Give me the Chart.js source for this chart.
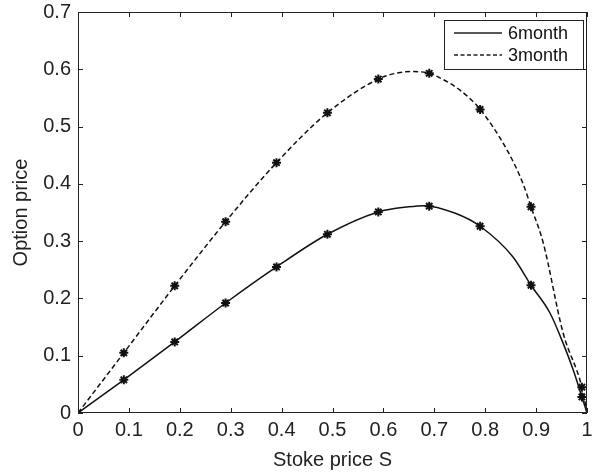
<!DOCTYPE html>
<html>
  <head>
    <script src="https://cdn.jsdelivr.net/npm/chart.js@4/dist/chart.umd.min.js"></script>
    <style>
      body { margin: 0; background: #fff; }
    </style>
  </head>
  <body>
    <canvas id="canvas" width="595" height="475"></canvas>
    <script>
      // marker positions (stars)
      const markS = [0.09, 0.19, 0.29, 0.39, 0.49, 0.59, 0.69, 0.79, 0.89, 0.99];
      const mark6 = [0.058, 0.124, 0.192, 0.255, 0.312, 0.351, 0.361, 0.326, 0.223, 0.028];
      const mark3 = [0.105, 0.222, 0.334, 0.437, 0.524, 0.583, 0.593, 0.530, 0.360, 0.045];

      // points
      const curveS6 = [0, 0.09, 0.19, 0.29, 0.39, 0.49, 0.59, 0.65, 0.68, 0.74, 0.79, 0.855, 0.89, 0.927, 0.953, 0.973, 0.99, 1];
      const curve6 = [0, 0.058, 0.124, 0.192, 0.255, 0.312, 0.351, 0.360, 0.362, 0.349, 0.326, 0.272, 0.223, 0.175, 0.122, 0.075, 0.028, 0];
      const curveS3 = [0, 0.09, 0.19, 0.29, 0.39, 0.49, 0.59, 0.63, 0.66, 0.69, 0.711, 0.75, 0.79, 0.843, 0.874, 0.89, 0.914, 0.953, 0.99, 1];
      const curve3 = [0, 0.105, 0.222, 0.334, 0.437, 0.524, 0.583, 0.594, 0.596, 0.593, 0.585, 0.564, 0.530, 0.459, 0.401, 0.360, 0.297, 0.140, 0.045, 0];

      const seriesNames = ['6month', '3month'];
      const xTitle = 'Stoke price S';
      const yTitle = 'Option price';

      const pts = (xs, ys) => xs.map((x, i) => ({ x: x, y: ys[i] }));
      const FONT = "'Liberation Sans', Arial, sans-serif";
      const fmt = (v) => String(+Number(v).toFixed(1));

      const matlabBox = {
        id: 'matlabBox',
        afterDraw(chart) {
          const ctx = chart.ctx;
          const a = chart.chartArea;
          const xs = chart.scales.x, ys = chart.scales.y;
          ctx.save();
          ctx.strokeStyle = '#222';
          ctx.lineWidth = 1;
          ctx.setLineDash([]);
          ctx.strokeRect(a.left + 0.5, a.top + 0.5, a.right - a.left - 1, a.bottom - a.top - 1);
          ctx.beginPath();
          xs.ticks.forEach((t) => {
            const px = Math.round(xs.getPixelForValue(t.value)) + 0.5;
            ctx.moveTo(px, a.bottom); ctx.lineTo(px, a.bottom - 5);
            ctx.moveTo(px, a.top); ctx.lineTo(px, a.top + 5);
          });
          ys.ticks.forEach((t) => {
            const py = Math.round(ys.getPixelForValue(t.value)) + 0.5;
            ctx.moveTo(a.left, py); ctx.lineTo(a.left + 5, py);
            ctx.moveTo(a.right, py); ctx.lineTo(a.right - 5, py);
          });
          ctx.stroke();

          // legend box
          const w = 139, h = 49;
          const lx = a.right - 4 - w, ly = a.top + 8;
          ctx.fillStyle = '#fff';
          ctx.fillRect(lx, ly, w, h);
          ctx.strokeRect(lx + 0.5, ly + 0.5, w, h);
          ctx.font = '18px ' + FONT;
          ctx.textBaseline = 'middle';
          ctx.fillStyle = '#111';
          seriesNames.forEach((name, i) => {
            const cy = ly + 13 + i * 22;
            ctx.beginPath();
            ctx.lineWidth = 1.5;
            ctx.setLineDash(i === 0 ? [] : [4, 2.5]);
            ctx.moveTo(lx + 10, cy); ctx.lineTo(lx + 58, cy);
            ctx.stroke();
            ctx.fillText(name, lx + 64, cy + 1);
          });
          ctx.restore();
        }
      };

      const curveStyle = {
        borderColor: '#111',
        borderWidth: 1.5,
        pointRadius: 0,
        fill: false,
        cubicInterpolationMode: 'monotone',
        showLine: true,
      };
      const markStyle = {
        showLine: false,
        pointStyle: 'star',
        pointRadius: 4.5,
        borderColor: '#111',
        borderWidth: 2,
        backgroundColor: '#111',
      };

      new Chart(document.getElementById('canvas').getContext('2d'), {
        type: 'line',
        data: {
          datasets: [
            Object.assign({ label: seriesNames[0], data: pts(curveS6, curve6) }, curveStyle),
            Object.assign({ label: seriesNames[1], data: pts(curveS3, curve3), borderDash: [5, 3] }, curveStyle),
            Object.assign({ data: pts(markS, mark6) }, markStyle),
            Object.assign({ data: pts(markS, mark3) }, markStyle),
          ],
        },
        options: {
          responsive: false,
          animation: false,
          layout: { padding: { top: 12, right: 8, left: 0, bottom: 0 } },
          plugins: {
            legend: { display: false },
            tooltip: { enabled: false },
          },
          scales: {
            x: {
              type: 'linear',
              min: 0,
              max: 1,
              grid: { display: false, drawTicks: false },
              border: { display: false },
              ticks: { stepSize: 0.1, color: '#222', font: { family: FONT, size: 20 }, padding: 5, maxRotation: 0, callback: fmt },
              title: { display: true, text: xTitle, color: '#222', font: { family: FONT, size: 20 }, padding: { top: 4, bottom: 3 } },
              afterFit: (s) => { s.height = 62; s.paddingLeft = 0; s.paddingRight = 0; },
            },
            y: {
              min: 0,
              max: 0.7,
              grid: { display: false, drawTicks: false },
              border: { display: false },
              ticks: { stepSize: 0.1, color: '#222', font: { family: FONT, size: 20 }, padding: 7, callback: fmt },
              title: { display: true, text: yTitle, color: '#222', font: { family: FONT, size: 20 }, padding: { top: 9, bottom: 4 } },
              afterFit: (s) => { s.width = 78; s.paddingTop = 0; s.paddingBottom = 0; },
            },
          },
        },
        plugins: [matlabBox],
      });
    </script>
  </body>
</html>
